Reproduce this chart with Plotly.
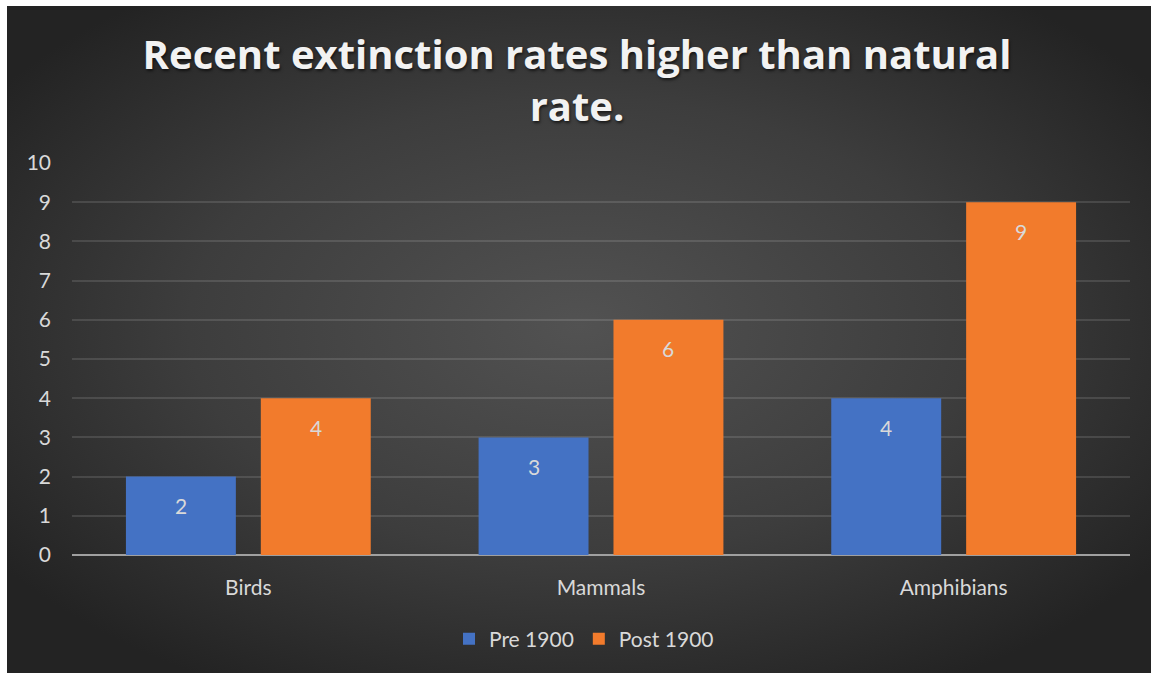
import base64
import plotly.graph_objects as go

# Extinction counts per group, before and after 1900
categories = ["Birds", "Mammals", "Amphibians"]
pre_1900 = [2, 3, 4]
post_1900 = [4, 6, 9]
y_ticks = list(range(0, 11))

W, H = 1154, 675
ML, MR, MT, MB = 72, 24, 163, 120
BARGAP, GROUPGAP = 0.235, 0.185

TEXT = "#d9d9d9"
FONT = "Lato"
FS = 21

# Dark radial-gradient panel with a thin white surround
bg_svg = f"""<svg xmlns='http://www.w3.org/2000/svg' width='{W}' height='{H}' viewBox='0 0 {W} {H}'>
<defs><radialGradient id='g' cx='50%' cy='48%' r='62%'>
<stop offset='0' stop-color='#525252'/><stop offset='0.55' stop-color='#3d3d3d'/><stop offset='1' stop-color='#232323'/>
</radialGradient></defs>
<rect width='{W}' height='{H}' fill='#ffffff'/>
<rect x='7' y='6' width='{W - 10}' height='{H - 8}' fill='url(#g)'/>
</svg>"""
bg_uri = "data:image/svg+xml;base64," + base64.b64encode(bg_svg.encode()).decode()

pw = W - ML - MR
ph = H - MT - MB

fig = go.Figure()
series = [("Pre 1900", pre_1900, "#4472c4"), ("Post 1900", post_1900, "#f27b2c")]
for name, vals, color in series:
    fig.add_trace(go.Bar(
        name=name, x=categories, y=vals,
        marker=dict(color=color, line=dict(width=0)),
        hoverinfo="x+y+name",
    ))

# Value labels sit inside each bar, a little below its top
slot_px = pw / len(categories) * (1 - BARGAP) / len(series)
annotations = []
for k, (name, vals, color) in enumerate(series):
    shift = (k - (len(series) - 1) / 2) * slot_px
    for cat, v in zip(categories, vals):
        annotations.append(dict(
            x=cat, y=v, xref="x", yref="y", text=str(v), showarrow=False,
            xshift=shift, yshift=-29, yanchor="middle",
            font=dict(family=FONT, size=FS, color=TEXT),
        ))

fig.update_layout(
    width=W, height=H,
    margin=dict(l=ML, r=MR, t=MT, b=MB),
    paper_bgcolor="#ffffff",
    plot_bgcolor="rgba(0,0,0,0)",
    barmode="group", bargap=BARGAP, bargroupgap=GROUPGAP,
    title=dict(
        text="Recent extinction rates higher than natural<br>rate.",
        x=0.5, xanchor="center", y=1 - 69 / H, yanchor="middle",
        font=dict(family="Open Sans", size=40, color="#f2f2f2", weight="bold",
                  shadow="1px 2px 3px rgba(0,0,0,0.6)"),
    ),
    font=dict(family=FONT, color=TEXT, size=FS),
    annotations=annotations,
    showlegend=True,
    legend=dict(orientation="h", x=(584 - ML) / pw, xanchor="center",
                y=-(639 - MT - ph) / ph, yanchor="middle",
                font=dict(family=FONT, size=FS, color=TEXT),
                bgcolor="rgba(0,0,0,0)", itemwidth=30, traceorder="normal"),
    xaxis=dict(showgrid=False, ticks="", showline=False, zeroline=False,
               tickfont=dict(family=FONT, size=FS, color=TEXT),
               ticklabelstandoff=18),
    yaxis=dict(range=[0, 10], tickvals=y_ticks, showgrid=True,
               gridcolor="rgba(255,255,255,0.12)", gridwidth=1.5,
               zeroline=True, zerolinecolor="#a0a0a0", zerolinewidth=2,
               ticks="", showline=False,
               tickfont=dict(family=FONT, size=FS, color=TEXT),
               ticklabelstandoff=20),
    images=[dict(source=bg_uri, xref="paper", yref="paper",
                 x=-ML / pw, y=1 + MT / ph, sizex=W / pw, sizey=H / ph,
                 xanchor="left", yanchor="top", sizing="stretch", layer="below")],
)

fig.write_html("out.html")
